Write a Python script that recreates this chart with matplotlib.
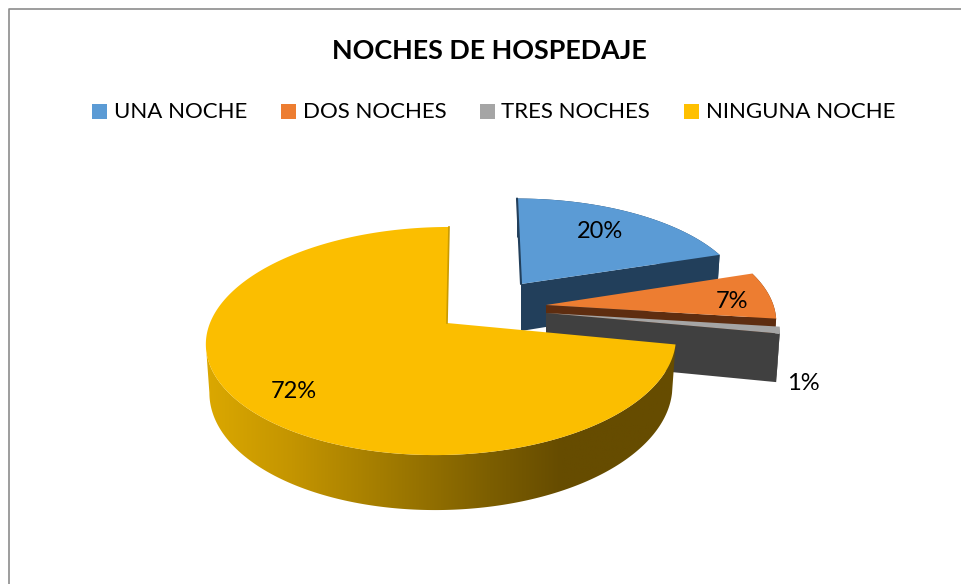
import numpy as np
import matplotlib
matplotlib.use('Agg')
import matplotlib.pyplot as plt
import matplotlib.patches as patches
from matplotlib.colors import LinearSegmentedColormap

plt.rcParams['font.family'] = ['Lato', 'DejaVu Sans']

# Data
categories = ['UNA NOCHE', 'DOS NOCHES', 'TRES NOCHES', 'NINGUNA NOCHE']
values = [20, 7, 1, 72]

# Colours
top_colors = ['#5B9BD5', '#ED7D31', '#A5A5A5', '#FFC000']
wall_colors = ['#223F5B', '#5E2D10', '#404040', '#664C00']

# Pixel geometry of each exploded slice (the picture is a fake 3D pie)
apex_x = [521, 546, 546, 447]
apex_y = [284, 305, 313, 323]
rim_x = [521, 546, 546, 442]
scale_x = [0.95, 0.98, 0.995, 1.0]
scale_y = [0.89, 0.96, 0.96, 1.0]
rim_skew = [-4, 0, 0, 7]
label_pos = [(600, 231), (732, 301), (803, 383), (294, 391)]
legend_box_x = [92, 281, 480, 684]
legend_text_x = [114, 303, 501, 706]

RX, RY, PERSP = 232, 111.2, 0.158

fig = plt.figure(figsize=(9.61, 5.84), dpi=100)
ax = fig.add_axes([0, 0, 1, 1])


def rim(i, t0, t1, n=200):
    # t is the angle in degrees clockwise from the top of the pie
    t = np.radians(np.linspace(t0, t1, n))
    u, v = np.sin(t), np.cos(t)
    d = 1 + PERSP * v
    x = rim_x[i] + scale_x[i] * RX * u / d + rim_skew[i] * v
    y = apex_y[i] - scale_y[i] * RY * v / d
    return x, y, v


def lower(i, x, y, v):
    # same points moved down to the bottom face of the slice
    depth = 47 - 8 * v
    return rim_x[i] + (x - rim_x[i]) * 0.985, y + depth


edges = np.concatenate([[0], np.cumsum(values)]) * 360 / sum(values)

# 1. Side walls and tops, back to front
for i in [0, 1, 2]:
    x, y, v = rim(i, edges[i], edges[i + 1])
    bx, by = lower(i, x, y, v)
    # cut face seen from the front
    wx = [apex_x[i], x[-1], bx[-1], apex_x[i]]
    wy = [apex_y[i], y[-1], by[-1], apex_y[i] + 47]
    ax.add_patch(patches.Polygon(np.column_stack([wx, wy]), facecolor=wall_colors[i], edgecolor='none'))
    # outer wall
    px = np.concatenate([x, bx[::-1]])
    py = np.concatenate([y, by[::-1]])
    ax.add_patch(patches.Polygon(np.column_stack([px, py]), facecolor=wall_colors[i], edgecolor='none'))
    # top surface
    tx = np.concatenate([[apex_x[i]], x])
    ty = np.concatenate([[apex_y[i]], y])
    ax.add_patch(patches.Polygon(np.column_stack([tx, ty]), facecolor=top_colors[i], edgecolor='none'))
    if i == 0:
        ax.plot([apex_x[i], x[0]], [apex_y[i], y[0]], color=wall_colors[i], lw=1.5, solid_capstyle='round')

# 2. Big slice with the shaded wall, only down to its left extreme so the outline stays smooth
x, y, v = rim(3, edges[3], edges[4], 400)
bx, by = lower(3, x, y, v)
k = np.argmin(x)
px = np.concatenate([x[:k + 1], bx[:k + 1][::-1]])
py = np.concatenate([y[:k + 1], by[:k + 1][::-1]])
wall = patches.Polygon(np.column_stack([px, py]), facecolor='none', edgecolor='none')
ax.add_patch(wall)
shade = LinearSegmentedColormap.from_list('shade', [
    (0.0, '#DBA800'), (0.18, '#C49500'), (0.39, '#A07A00'), (0.60, '#7C5E00'), (0.75, '#664C00'), (1.0, '#664C00')])
im = ax.imshow(np.linspace(0, 1, 256).reshape(1, -1), cmap=shade, extent=(206, 680, 520, 330), aspect='auto', zorder=2)
im.set_clip_path(wall)
tx = np.concatenate([[apex_x[3]], x])
ty = np.concatenate([[apex_y[3]], y])
ax.add_patch(patches.Polygon(np.column_stack([tx, ty]), facecolor='#FBBE00', edgecolor='none', zorder=3))
ax.plot([apex_x[3], x[-1]], [apex_y[3], y[-1]], color='#C99A00', lw=1.2, zorder=3)

# 3. Data labels
for val, (lx, ly) in zip(values, label_pos):
    ax.text(lx, ly, f'{val}%', ha='center', va='center', fontsize=17, color='black', zorder=5)

# 4. Title and legend
ax.text(489.5, 51, 'NOCHES DE HOSPEDAJE', ha='center', va='center', fontsize=19.4, fontweight='bold', color='black')
for name, color, bx0, tx0 in zip(categories, top_colors, legend_box_x, legend_text_x):
    ax.add_patch(patches.Rectangle((bx0, 104), 15, 15, facecolor=color, edgecolor='none'))
    ax.text(tx0, 111.5, name, ha='left', va='center', fontsize=16, color='black')

# 5. Chart frame
ax.plot([8.5, 8.5, 961], [584, 8.5, 8.5], color='#8C8C8C', lw=1.2)

ax.set_xlim(0, 961)
ax.set_ylim(584, 0)
ax.axis('off')

plt.savefig('out.png', dpi=100)
